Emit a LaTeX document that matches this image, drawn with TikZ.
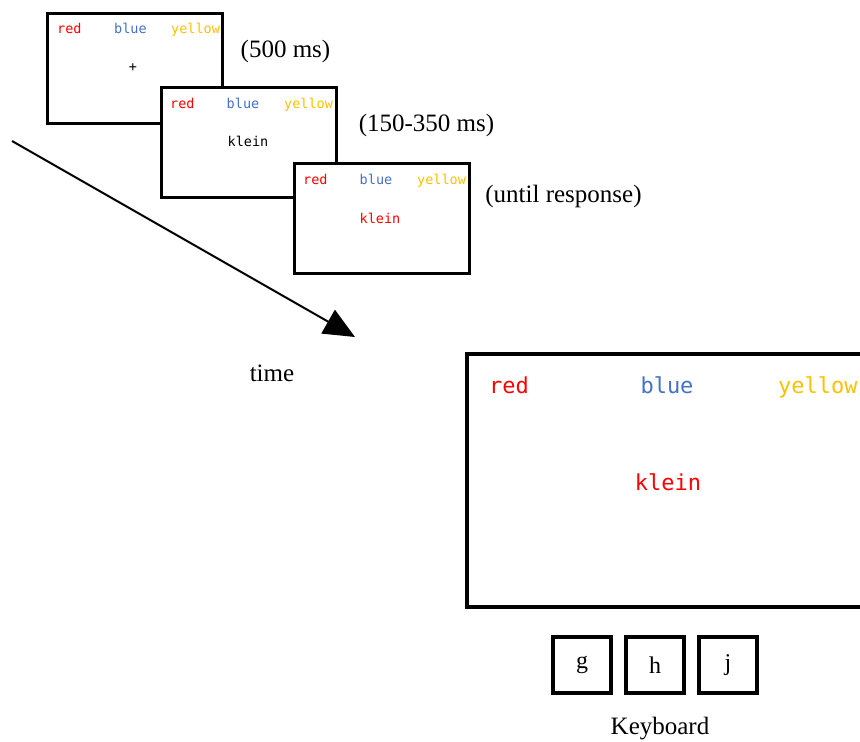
\documentclass[tikz,border=0pt]{standalone}
\usepackage{fontspec}
\setmainfont{Liberation Serif}
\newfontfamily\monof{DejaVu Sans Mono}
\usetikzlibrary{arrows.meta}
\definecolor{cred}{HTML}{FF0000}
\definecolor{cblue}{HTML}{4472C4}
\definecolor{cyellow}{HTML}{FFC000}
\begin{document}
\begin{tikzpicture}[x=1pt,y=-1pt,
  screen/.style={draw=black,line width=3pt,fill=white,minimum width=175pt,minimum height=110pt,inner sep=0pt},
  bigscreen/.style={draw=black,line width=4pt,fill=white,minimum width=399pt,minimum height=253pt,inner sep=0pt},
  keybox/.style={draw=black,line width=4pt,fill=white,minimum width=58pt,minimum height=56pt,inner sep=0pt,font=\fontsize{24}{26}\selectfont},
  sw/.style={inner sep=0pt,font=\monof\fontsize{13.5}{15}\selectfont},
  bw/.style={inner sep=0pt,font=\monof\fontsize{22}{24}\selectfont},
  lbl/.style={inner sep=0pt,font=\fontsize{25}{28}\selectfont}]
\useasboundingbox (0,0) rectangle (860,742);
% screen 1
\node[screen] (s1) at (134.5,68.5) {};
\node[sw,text=cred,anchor=base west] (s1r) at (57,33) {red};
\node[sw,text=cblue,anchor=base] (s1b) at (130.5,33) {blue};
\node[sw,text=cyellow,anchor=base west] (s1y) at (171,33) {yellow};
\node[sw] (s1c) at (133,68) {+};
% screen 2
\node[screen] (s2) at (248.5,142.5) {};
\node[sw,text=cred,anchor=base west] (s2r) at (170,108) {red};
\node[sw,text=cblue,anchor=base] (s2b) at (243,108) {blue};
\node[sw,text=cyellow,anchor=base west] (s2y) at (284,108) {yellow};
\node[sw] (s2c) at (248,141) {klein};
% screen 3
\node[screen] (s3) at (381.5,218) {};
\node[sw,text=cred,anchor=base west] (s3r) at (303,184) {red};
\node[sw,text=cblue,anchor=base] (s3b) at (376,184) {blue};
\node[sw,text=cyellow,anchor=base west] (s3y) at (417,184) {yellow};
\node[sw,text=cred] (s3c) at (380,218) {klein};
% durations
\node[lbl] (d1) at (285.5,51) {(500 ms)};
\node[lbl] (d2) at (426.5,125) {(150-350 ms)};
\node[lbl] (d3) at (563.5,196) {(until response)};
% time arrow
\coordinate (ta) at (12,141);
\coordinate (tb) at (355,337);
\draw[line width=2pt,-{Triangle[length=31pt,width=27pt]}] (ta) -- (tb);
\node[lbl] (time) at (272,373) {time};
% big screen
\node[bigscreen] (big) at (666.5,480.5) {};
\node[bw,text=cred,anchor=base west] (br) at (489,393) {red};
\node[bw,text=cblue,anchor=base] (bb) at (667,393) {blue};
\node[bw,text=cyellow,anchor=base west] (by) at (778,393) {yellow};
\node[bw,text=cred] (bc) at (668,482) {klein};
% keys
\node[keybox] (kg) at (582,665) {g};
\node[keybox] (kh) at (655,665) {h};
\node[keybox] (kj) at (728,665) {j};
\node[lbl] (kb) at (660,729) {Keyboard};
\end{tikzpicture}
\end{document}
